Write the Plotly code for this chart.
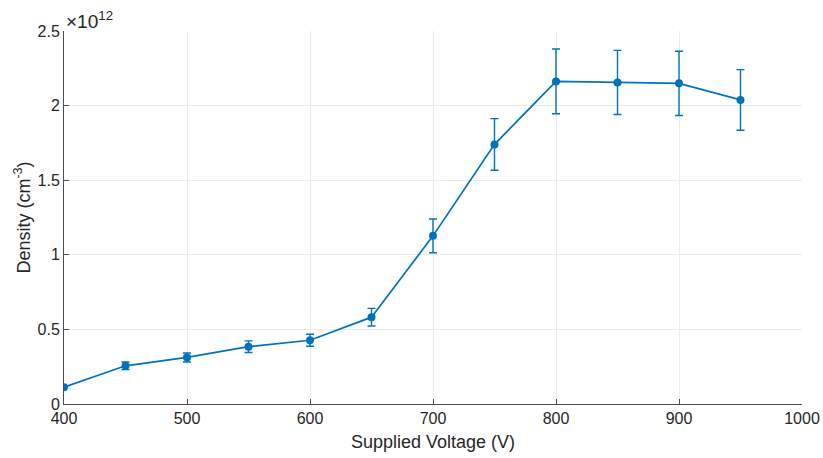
import plotly.graph_objects as go

voltage = [400, 450, 500, 550, 600, 650, 700, 750, 800, 850, 900, 950]
density = [0.113, 0.256, 0.312, 0.384, 0.427, 0.582, 1.127, 1.74, 2.162, 2.155, 2.149, 2.038]
density_err = [0.0, 0.025, 0.03, 0.039, 0.04, 0.059, 0.113, 0.173, 0.217, 0.215, 0.215, 0.203]

y_ticks = [0, 0.5, 1, 1.5, 2, 2.5]
y_tick_text = ["0", "0.5", "1", "1.5", "2", "2.5"]
x_ticks = [400, 500, 600, 700, 800, 900, 1000]

color = "#0072BD"
axis_color = "#4d4d4d"
text_color = "#262626"
font_family = "Liberation Sans, Arial, sans-serif"

fig = go.Figure()
fig.add_trace(go.Scatter(
    x=voltage, y=density,
    mode="lines+markers",
    line=dict(color=color, width=1.7),
    marker=dict(color=color, size=8),
    error_y=dict(type="data", array=density_err, visible=True,
                 color=color, thickness=1.4, width=4),
    showlegend=False,
))

fig.update_layout(
    width=823, height=458,
    margin=dict(l=64, r=21, t=31, b=54),
    paper_bgcolor="white", plot_bgcolor="white",
    font=dict(family=font_family, size=16, color=text_color),
    xaxis=dict(
        range=[400, 1000], tickvals=x_ticks, automargin=False,
        showgrid=True, gridcolor="#ebebeb", gridwidth=1,
        showline=True, linecolor=axis_color, linewidth=1,
        ticks="inside", ticklen=5, tickcolor=axis_color,
        zeroline=False,
        title=dict(text="Supplied Voltage (V)", font=dict(size=18), standoff=9),
        tickfont=dict(size=16),
    ),
    yaxis=dict(
        range=[0, 2.5], tickvals=y_ticks, ticktext=y_tick_text, automargin=False,
        showgrid=True, gridcolor="#ebebeb", gridwidth=1,
        showline=True, linecolor=axis_color, linewidth=1,
        ticks="inside", ticklen=5, tickcolor=axis_color,
        zeroline=False,
        title=dict(text="Density (cm<sup>-3</sup>)", font=dict(size=18), standoff=2),
        tickfont=dict(size=16),
    ),
    annotations=[dict(
        text="×10<sup>12</sup>", xref="paper", yref="paper",
        x=0, y=1, xanchor="left", yanchor="bottom", showarrow=False,
        font=dict(size=19, color=text_color), yshift=-3,
    )],
)

fig.write_html("out.html")
